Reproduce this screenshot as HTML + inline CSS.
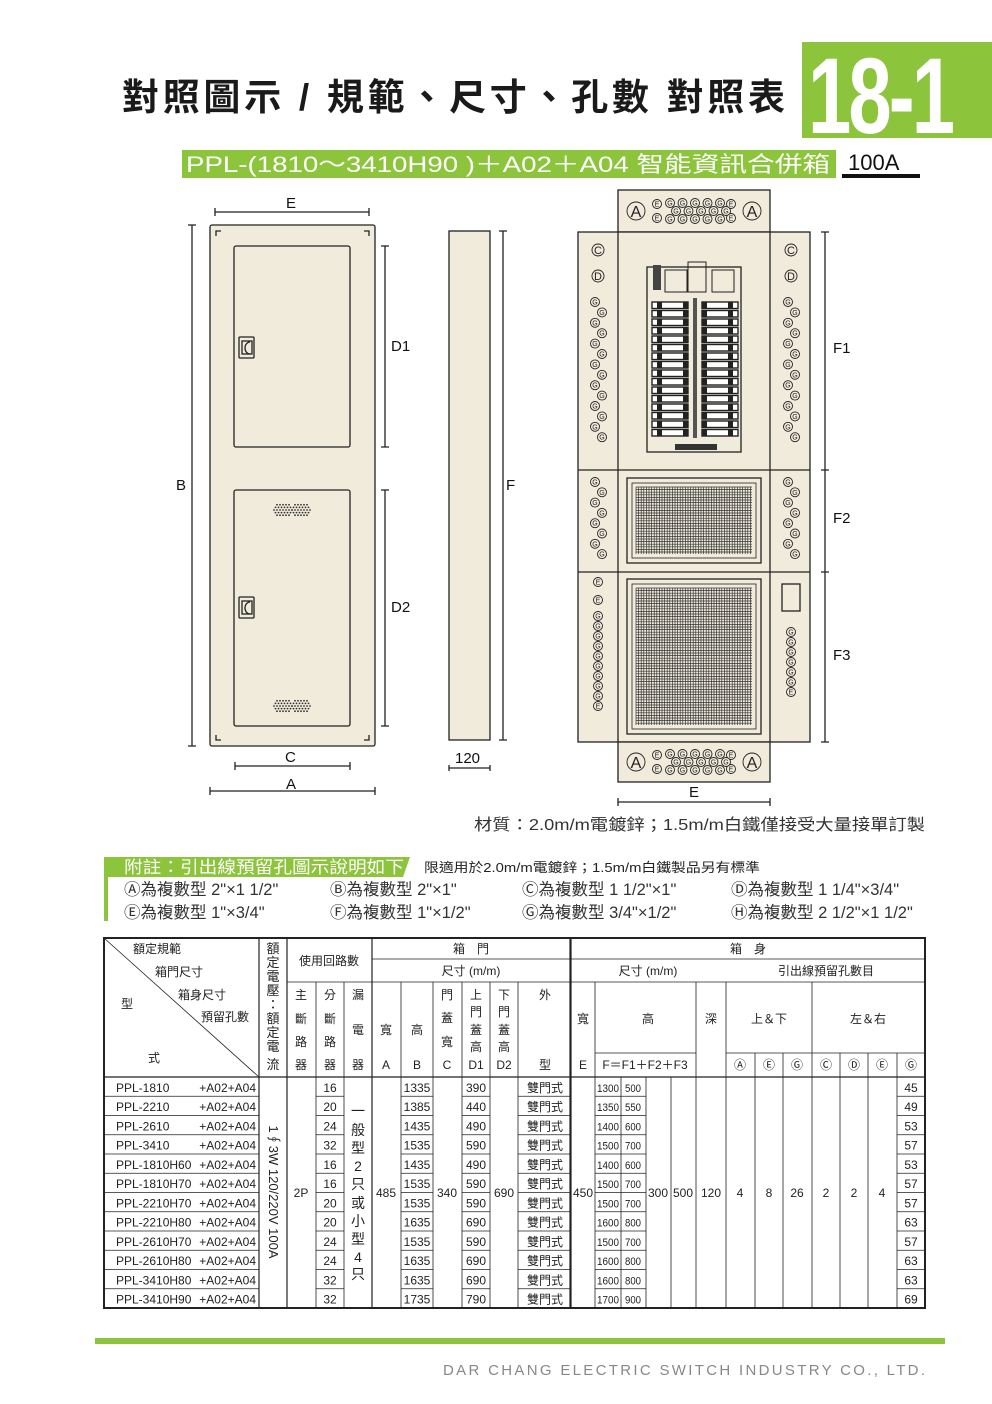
<!DOCTYPE html>
<html><head><meta charset="utf-8">
<style>
html,body{margin:0;padding:0;background:#fff;}
svg{display:block;font-family:"Liberation Sans","Noto Sans CJK TC",sans-serif;}
</style></head>
<body>
<svg id="s" width="992" height="1404" viewBox="0 0 992 1404" xmlns="http://www.w3.org/2000/svg">
<!-- Header -->
<text x="122" y="110" font-size="37" font-weight="bold" fill="#1a1a1a" textLength="663" lengthAdjust="spacing">對照圖示 / 規範、尺寸、孔數  對照表</text>
<rect x="802" y="42" width="190" height="96" fill="#8cc43c"/>
<text x="808" y="133" font-size="108" font-weight="bold" fill="#fff" transform="translate(808 0) scale(0.72 1) translate(-808 0)" letter-spacing="-4">18-1</text>
<rect x="182" y="150" width="654" height="28" fill="#8cc43c"/>
<text x="186" y="172" font-size="22" fill="#fff" textLength="644" lengthAdjust="spacingAndGlyphs">PPL-(1810～3410H90 )＋A02＋A04 智能資訊合併箱</text>
<text x="848" y="170" font-size="22" fill="#111">100A</text>
<rect x="842" y="174" width="78" height="4" fill="#111"/>

<g id="draw" stroke="#222" stroke-width="1.3" fill="none">
 <rect x="210" y="225" width="165" height="521" rx="2" fill="#f1ebdc"/>
 <path d="M216 236v-5h5M369 236v-5h-5M216 735v5h5M369 735v5h-5"/>
 <rect x="234" y="246" width="116" height="201" rx="2"/>
 <rect x="234" y="490" width="116" height="236" rx="2"/>
 <rect x="239" y="337" width="15" height="21" rx="1"/><rect x="242" y="341" width="10" height="13"/>
 <rect x="239" y="597" width="15" height="21" rx="1"/><rect x="242" y="601" width="10" height="13"/>
 <path d="M215 212h154M215 208v8M369 208v8"/>
 <path d="M192 225v521M188 225h8M188 746h8"/>
 <path d="M385 246v201M381 246h8M381 447h8"/>
 <path d="M385 490v236M381 490h8M381 726h8"/>
 <path d="M235 766h115M235 762v8M350 762v8"/>
 <path d="M210 791h165M210 787v8M375 787v8"/>
 <rect x="449" y="231" width="41" height="509" fill="#f1ebdc"/>
 <path d="M503 231v509M499 231h8M499 740h8"/>
 <path d="M449 768h41M449 765v6M490 765v6"/>
 <rect x="618" y="190" width="152" height="42" fill="#f1ebdc"/>
 <rect x="578" y="232" width="232" height="510" fill="#f1ebdc"/>
 <path d="M618 232v510M770 232v510M578 470h232M578 572h232"/>
 <rect x="618" y="742" width="152" height="40" fill="#f1ebdc"/>
 <rect x="647" y="267" width="94" height="185"/>
 <rect x="627" y="478" width="134" height="85"/><rect x="632" y="483" width="124" height="75" stroke-width="0.8"/>
 <rect x="627" y="579" width="134" height="155"/><rect x="632" y="584" width="124" height="145" stroke-width="0.8"/>
 <rect x="782" y="584" width="18" height="27"/>
 <path d="M825 232v510M821 232h8M821 470h8M821 572h8M821 742h8"/>
 <path d="M618 802h152M618 798v8M770 798v8"/>
</g>
<g id="deco"></g>
<g font-size="15" fill="#111">
 <text x="286" y="208">E</text><text x="176" y="490">B</text><text x="391" y="351">D1</text><text x="391" y="612">D2</text>
 <text x="285" y="762">C</text><text x="286" y="789">A</text><text x="506" y="490">F</text><text x="455" y="763">120</text>
 <text x="833" y="353">F1</text><text x="833" y="523">F2</text><text x="833" y="660">F3</text><text x="689" y="797">E</text>
</g>
<text x="474" y="830" font-size="16" fill="#333" textLength="451" lengthAdjust="spacingAndGlyphs">材質：2.0m/m電鍍鋅；1.5m/m白鐵僅接受大量接單訂製</text>

<path d="M104 857H410L403 877H104Z" fill="#8cc43c"/>
<rect x="104" y="877" width="4" height="44" fill="#8cc43c"/>
<text x="124" y="873" font-size="17" fill="#fff" textLength="280" lengthAdjust="spacingAndGlyphs">附註：引出線預留孔圖示說明如下</text>
<text x="424" y="872" font-size="13" fill="#222" textLength="336" lengthAdjust="spacingAndGlyphs">限適用於2.0m/m電鍍鋅；1.5m/m白鐵製品另有標準</text>
<g font-size="16.5" fill="#333">
 <text x="124" y="895">Ⓐ為複數型 2"×1 1/2"</text><text x="330" y="895">Ⓑ為複數型 2"×1"</text><text x="522" y="895">Ⓒ為複數型 1 1/2"×1"</text><text x="731" y="895">Ⓓ為複數型 1 1/4"×3/4"</text>
 <text x="124" y="918">Ⓔ為複數型 1"×3/4"</text><text x="330" y="918">Ⓕ為複數型 1"×1/2"</text><text x="522" y="918">Ⓖ為複數型 3/4"×1/2"</text><text x="731" y="918">Ⓗ為複數型 2 1/2"×1 1/2"</text>
</g>

<g id="tbl" stroke="#222" stroke-width="0.8" fill="none">
 <rect x="104" y="938" width="821" height="370" stroke-width="2"/>
 <path d="M104 1077H925" stroke-width="1.2"/>
 <path d="M104 938L259 1077"/>
 <path d="M259 938V1308M287 938V1308M372 938V1308M570 938V1308M571 938V1308" stroke-width="1.2"/>
 <path d="M287 982H925M372 959H925M726 982V1308"/>
 <path d="M316 982V1308M344 982V1308M401 982V1308M433 982V1308M462 982V1308M490 982V1308M518 982V1308M595 982V1308M696 982V1308"/>
 <path d="M595 1053H696M726 1053H925M755 1053V1308M783 1053V1308M812 982V1308M840 1053V1308M868 1053V1308M897 1053V1308"/>
 <path d="M621 1077V1308M646 1077V1308M671 1077V1308"/>
</g>
<g id="rowlines"></g>
<g font-size="12" fill="#222" text-anchor="middle">
 <text x="133" y="953" text-anchor="start">額定規範</text><text x="155" y="976" text-anchor="start">箱門尺寸</text>
 <text x="178" y="999" text-anchor="start">箱身尺寸</text><text x="201" y="1021" text-anchor="start">預留孔數</text>
 <text x="127" y="1008">型</text><text x="154" y="1062">式</text>
 <g font-size="13"><text x="273" y="953">額</text><text x="273" y="967">定</text><text x="273" y="981">電</text><text x="273" y="995">壓</text><text x="273" y="1009">：</text><text x="273" y="1023">額</text><text x="273" y="1037">定</text><text x="273" y="1051">電</text><text x="273" y="1069">流</text></g>
 <text x="329" y="965">使用回路數</text>
 <text x="301" y="999">主</text><text x="301" y="1023">斷</text><text x="301" y="1046">路</text><text x="301" y="1069">器</text>
 <text x="330" y="999">分</text><text x="330" y="1023">斷</text><text x="330" y="1046">路</text><text x="330" y="1069">器</text>
 <text x="358" y="999">漏</text><text x="358" y="1034">電</text><text x="358" y="1069">器</text>
 <text x="386" y="1034">寬</text><text x="386" y="1069">A</text>
 <text x="417" y="1034">高</text><text x="417" y="1069">B</text>
 <text x="447" y="999">門</text><text x="447" y="1022">蓋</text><text x="447" y="1046">寬</text><text x="447" y="1069">C</text>
 <text x="476" y="999">上</text><text x="476" y="1016">門</text><text x="476" y="1034">蓋</text><text x="476" y="1051">高</text><text x="476" y="1069">D1</text>
 <text x="504" y="999">下</text><text x="504" y="1016">門</text><text x="504" y="1034">蓋</text><text x="504" y="1051">高</text><text x="504" y="1069">D2</text>
 <text x="545" y="999">外</text><text x="545" y="1069">型</text>
 <text x="471" y="953">箱　門</text><text x="471" y="975">尺寸 (m/m)</text>
 <text x="748" y="953">箱　身</text><text x="648" y="975">尺寸 (m/m)</text><text x="826" y="975">引出線預留孔數目</text>
 <text x="583" y="1023">寬</text><text x="583" y="1069">E</text><text x="648" y="1023">高</text>
 <text x="645" y="1069">F＝F1＋F2＋F3</text><text x="711" y="1023">深</text>
 <text x="769" y="1023">上＆下</text><text x="868" y="1023">左＆右</text>
 <text x="740" y="1069">Ⓐ</text><text x="769" y="1069">Ⓔ</text><text x="797" y="1069">Ⓖ</text><text x="826" y="1069">Ⓒ</text><text x="854" y="1069">Ⓓ</text><text x="882" y="1069">Ⓔ</text><text x="911" y="1069">Ⓖ</text>
 <text transform="translate(269 1192) rotate(90)" font-size="13">1∮3W 120/220V 100A</text>
 <text x="301" y="1197">2P</text>
 <g font-size="14"><text x="358" y="1116">一</text><text x="358" y="1135">般</text><text x="358" y="1153">型</text><text x="358" y="1171">2</text><text x="358" y="1189">只</text><text x="358" y="1208">或</text><text x="358" y="1226">小</text><text x="358" y="1244">型</text><text x="358" y="1262">4</text><text x="358" y="1279">只</text></g>
 <text x="386" y="1197">485</text><text x="447" y="1197">340</text><text x="504" y="1197">690</text><text x="583" y="1197">450</text>
 <text x="658" y="1197">300</text><text x="683" y="1197">500</text><text x="711" y="1197">120</text>
 <text x="740" y="1197">4</text><text x="769" y="1197">8</text><text x="797" y="1197">26</text><text x="826" y="1197">2</text><text x="854" y="1197">2</text><text x="882" y="1197">4</text>
</g>
<g id="body" font-size="12" fill="#222"></g>

<rect x="95" y="1338" width="850" height="6" fill="#8cc43c"/>
<text x="443" y="1375" font-size="15" fill="#888" textLength="482" lengthAdjust="spacing">DAR CHANG ELECTRIC SWITCH INDUSTRY CO., LTD.</text>
</svg>
<script>
var NS="http://www.w3.org/2000/svg";
function el(p,t,a,txt){var e=document.createElementNS(NS,t);for(var k in a)e.setAttribute(k,a[k]);if(txt!=null)e.textContent=txt;document.getElementById(p).appendChild(e);return e;}
var rows=[["PPL-1810",16,1335,390,1300,500,45],["PPL-2210",20,1385,440,1350,550,49],["PPL-2610",24,1435,490,1400,600,53],["PPL-3410",32,1535,590,1500,700,57],["PPL-1810H60",16,1435,490,1400,600,53],["PPL-1810H70",16,1535,590,1500,700,57],["PPL-2210H70",20,1535,590,1500,700,57],["PPL-2210H80",20,1635,690,1600,800,63],["PPL-2610H70",24,1535,590,1500,700,57],["PPL-2610H80",24,1635,690,1600,800,63],["PPL-3410H80",32,1635,690,1600,800,63],["PPL-3410H90",32,1735,790,1700,900,69]];
var y0=1077,h=19.25;
var segs=[[104,259],[316,344],[401,433],[462,490],[518,570],[595,621],[621,646],[897,925]];
rows.forEach(function(r,i){var y=y0+h*i,b=y+h-4.5;
 if(i>0)segs.forEach(function(s){el("rowlines","line",{x1:s[0],x2:s[1],y1:y,y2:y,stroke:"#222","stroke-width":0.8});});
 el("body","text",{x:116,y:b},r[0]);
 el("body","text",{x:256,y:b,"text-anchor":"end"},"+A02+A04");
 el("body","text",{x:330,y:b,"text-anchor":"middle"},r[1]);
 el("body","text",{x:417,y:b,"text-anchor":"middle"},r[2]);
 el("body","text",{x:476,y:b,"text-anchor":"middle"},r[3]);
 el("body","text",{x:545,y:b,"text-anchor":"middle"},"雙門式");
 el("body","text",{x:608,y:b,"text-anchor":"middle","font-size":11,textLength:22,lengthAdjust:"spacingAndGlyphs"},r[4]);
 el("body","text",{x:633,y:b,"text-anchor":"middle","font-size":11,textLength:16,lengthAdjust:"spacingAndGlyphs"},r[5]);
 el("body","text",{x:911,y:b,"text-anchor":"middle"},r[6]);
});
function circ(x,y,r,l,fs){el("deco","circle",{cx:x,cy:y,r:r,fill:"#f1ebdc",stroke:"#222","stroke-width":0.9});el("deco","text",{x:x,y:y+fs*0.36,"font-size":fs,"text-anchor":"middle",fill:"#222"},l);}
function topPanel(y){circ(636,y,9,"A",16);circ(752,y,9,"A",16);
 circ(657,y-7,4.5,"E",7);circ(657,y+7,4.5,"E",7);circ(731,y-7,4.5,"E",7);circ(731,y+7,4.5,"E",7);
 for(var i=0;i<5;i++){circ(670+i*12.5,y-8,4.5,"G",7);circ(670+i*12.5,y+8,4.5,"G",7);}
 for(var i=0;i<5;i++)circ(676+i*12.5,y,4.5,"G",7);}
topPanel(211);topPanel(762);
[598,791].forEach(function(x){circ(x,250,6,"C",11);circ(x,276,6,"D",11);
 for(var i=0;i<14;i++)circ(x-3+(i%2)*7,302+i*10.4,4.5,"G",7);
 for(var i=0;i<8;i++)circ(x-3+(i%2)*7,482+i*10.3,4.5,"G",7);});
circ(598,582,4.5,"E",7);circ(598,600,4.5,"E",7);
for(var i=0;i<10;i++)circ(598,616+i*10,4.5,i==9?"E":"G",7);
for(var i=0;i<7;i++)circ(791,632+i*10,4.5,i==6?"E":"G",7);
el("deco","rect",{x:653,y:265,width:8,height:25,fill:"#444"});
el("deco","rect",{x:665,y:270,width:22,height:22,fill:"none",stroke:"#222"});
el("deco","rect",{x:712,y:270,width:22,height:22,fill:"none",stroke:"#222"});
el("deco","rect",{x:688,y:262,width:18,height:30,fill:"none",stroke:"#222"});
el("deco","rect",{x:693,y:298,width:4,height:140,fill:"#555"});
for(var i=0;i<16;i++){var y=302+i*8.5;
 el("deco","rect",{x:652,y:y,width:36,height:6.5,fill:"#fff",stroke:"#222","stroke-width":1.4});
 el("deco","rect",{x:702,y:y,width:36,height:6.5,fill:"#fff",stroke:"#222","stroke-width":1.4});
 el("deco","rect",{x:657,y:y,width:5,height:6.5,fill:"#222"});el("deco","rect",{x:683,y:y,width:5,height:6.5,fill:"#222"});
 el("deco","rect",{x:702,y:y,width:5,height:6.5,fill:"#222"});el("deco","rect",{x:728,y:y,width:5,height:6.5,fill:"#222"});}
el("deco","rect",{x:675,y:444,width:42,height:6,fill:"#333"});
function grid(x,y,w,h){var d="";for(var i=0;i<=w;i+=2.6)d+="M"+(x+i)+" "+y+"v"+h;for(var j=0;j<=h;j+=2.6)d+="M"+x+" "+(y+j)+"h"+w;el("deco","path",{d:d,stroke:"#333","stroke-width":0.7,fill:"none"});}
grid(636,487,116,67);grid(636,588,116,137);
function vent(cx,cy){for(var r=-2;r<=2;r++){var n=5-Math.abs(r);for(var k=0;k<n+2;k++)el("deco","circle",{cx:cx-(n+1)*1.5+k*3,cy:cy+r*2.6,r:0.9,fill:"#333"});}}
[510,706].forEach(function(y){vent(283,y);vent(301,y);});
el("deco","path",{d:"M250 342a5 6 0 0 0 0 12M250 602a5 6 0 0 0 0 12",stroke:"#222",fill:"none","stroke-width":1.3});
</script>
</body></html>
